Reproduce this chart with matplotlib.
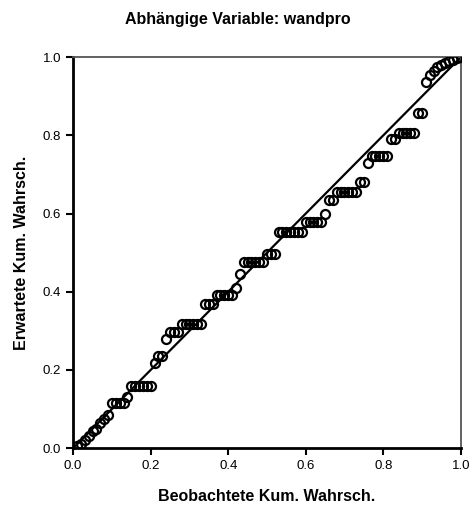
import numpy as np
import matplotlib
matplotlib.use("Agg")
import matplotlib.pyplot as plt

plt.rcParams['font.family'] = ['Liberation Sans', 'DejaVu Sans']

title = "Abhängige Variable: wandpro"
xlabel = "Beobachtete Kum. Wahrsch."
ylabel = "Erwartete Kum. Wahrsch."
tick_values = [0.0, 0.2, 0.4, 0.6, 0.8, 1.0]
tick_labels = ["0.0", "0.2", "0.4", "0.6", "0.8", "1.0"]

# expected cumulative probability for each observation (sorted)
expected = [
    0.005, 0.01, 0.02, 0.03, 0.045, 0.05, 0.065, 0.075, 0.085,
    0.115, 0.115, 0.115, 0.115, 0.13,
    0.16, 0.16, 0.16, 0.16, 0.16, 0.16,
    0.217, 0.235, 0.235,
    0.279, 0.297, 0.297, 0.297,
    0.318, 0.318, 0.318, 0.318, 0.318, 0.318,
    0.37, 0.37, 0.37,
    0.393, 0.393, 0.393, 0.393, 0.393,
    0.41, 0.445,
    0.475, 0.475, 0.475, 0.475, 0.475, 0.475,
    0.497, 0.497, 0.497,
    0.553, 0.553, 0.553, 0.553, 0.553, 0.553, 0.553,
    0.578, 0.578, 0.578, 0.578, 0.578,
    0.60, 0.635, 0.635,
    0.655, 0.655, 0.655, 0.655, 0.655, 0.655,
    0.68, 0.68,
    0.73,
    0.748, 0.748, 0.748, 0.748, 0.748,
    0.79, 0.79,
    0.807, 0.807, 0.807, 0.807, 0.807,
    0.858, 0.858,
    0.936, 0.955, 0.965, 0.975,
    0.98, 0.985, 0.99, 0.993, 0.997, 1.0,
]
n = len(expected)
observed = [(i + 1) / n for i in range(n)]

fig = plt.figure(figsize=(4.75, 5.11), dpi=100)
ax = fig.add_axes([0.154, 0.123, 0.816, 0.765])

ax.plot([0, 1], [0, 1], color='black', linewidth=1.6, zorder=2)
ax.plot(observed, expected, linestyle='none', marker='o', markersize=6.5,
        markerfacecolor='none', markeredgecolor='black', markeredgewidth=1.6,
        zorder=3)

ax.set_xlim(0, 1)
ax.set_ylim(0, 1)
ax.set_xticks(tick_values)
ax.set_xticklabels(tick_labels)
ax.set_yticks(tick_values)
ax.set_yticklabels(tick_labels)
ax.tick_params(direction='out', length=5, width=1.5, labelsize=9.5, colors='black')

for side in ['left', 'bottom']:
    ax.spines[side].set_linewidth(2)
    ax.spines[side].set_color('black')
for side in ['top', 'right']:
    ax.spines[side].set_linewidth(1.3)
    ax.spines[side].set_color('#555555')

ax.set_xlabel(xlabel, fontsize=11.5, fontweight='bold', labelpad=12)
ax.set_ylabel(ylabel, fontsize=11.5, fontweight='bold', labelpad=10)
fig.text(0.5, 0.962, title, ha='center', va='center', fontsize=11.5, fontweight='bold')

fig.savefig("out.png", dpi=100)
